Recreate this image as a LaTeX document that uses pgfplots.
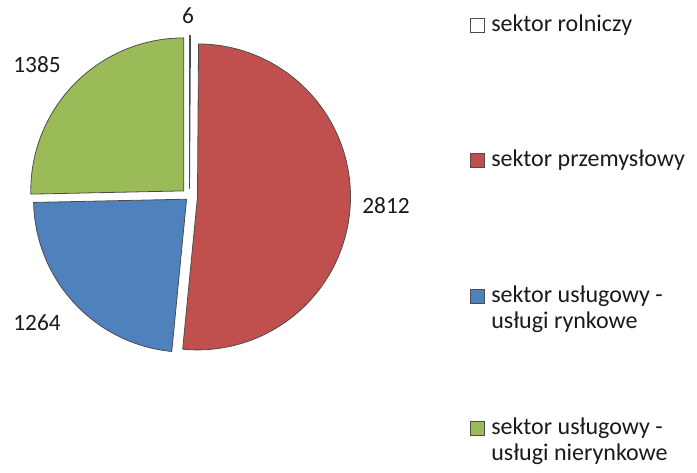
\documentclass[border=0pt]{standalone}
\usepackage{fontspec}
\setmainfont{Carlito}
\usepackage{pgfplots}
\pgfplotsset{compat=1.18}
\usepackage{pgfplotstable}
\definecolor{cred}{HTML}{C0504D}
\definecolor{cblue}{HTML}{4F81BD}
\definecolor{cgreen}{HTML}{9BBB59}
\definecolor{ctext}{HTML}{1A1A1A}
\pgfplotstableread{
sector value
rolniczy 6
przemyslowy 2812
rynkowe 1264
nierynkowe 1385
}\piedata
\pgfplotstablegetelem{0}{value}\of\piedata\edef\va{\pgfplotsretval}
\pgfplotstablegetelem{1}{value}\of\piedata\edef\vb{\pgfplotsretval}
\pgfplotstablegetelem{2}{value}\of\piedata\edef\vc{\pgfplotsretval}
\pgfplotstablegetelem{3}{value}\of\piedata\edef\vd{\pgfplotsretval}
\pgfmathsetmacro\tot{\va+\vb+\vc+\vd}
\pgfmathsetmacro\aA{90}
\pgfmathsetmacro\aB{90-(\va/\tot)*360}
\pgfmathsetmacro\aC{\aB-(\vb/\tot)*360}
\pgfmathsetmacro\aD{\aC-(\vc/\tot)*360}
\pgfmathsetmacro\aE{\aD-(\vd/\tot)*360}
% 1 px = 0.75pt ; radius 153 px
\newcommand\slice[4]{% start, end, colour, explosion (pt)
  \pgfmathsetmacro\midA{(#1+#2)/2}%
  \edef\tmp{\noexpand\filldraw[fill=#3,draw=black!70,line width=0.6pt,line join=round]
    (axis cs:189.5,276.5) ++(\midA:#4) -- +(#1:114.75pt)
    arc[start angle=#1,end angle=#2,radius=114.75pt] -- cycle;}%
  \tmp}
\begin{document}
\begin{tikzpicture}
\begin{axis}[
  scale only axis, width=522.75pt, height=354.75pt,
  xmin=0, xmax=697, ymin=0, ymax=473,
  hide axis, clip=false,
]
\path (axis cs:0,0) rectangle (axis cs:697,473);
\slice{\aA}{\aB}{white}{6pt}
\slice{\aB}{\aC}{cred}{6pt}
\slice{\aC}{\aD}{cblue}{3pt}
\slice{\aD}{\aE}{cgreen}{6pt}
% data labels
\begin{scope}[every node/.style={font=\fontsize{17.5pt}{21pt}\selectfont, text=ctext, inner sep=0pt}]
\node at (axis cs:188,457) {\va};
\node at (axis cs:386,267) {\vb};
\node at (axis cs:37,150) {\vc};
\node at (axis cs:37,408.5) {\vd};
\end{scope}
% legend
\begin{scope}[every node/.style={font=\fontsize{18pt}{21pt}\selectfont, text=ctext, inner sep=0pt, anchor=west}]
\filldraw[fill=white, draw=black!70, line width=0.6pt] (axis cs:470,441) rectangle (axis cs:484.5,455);
\node at (axis cs:491,448) {sektor rolniczy};
\filldraw[fill=cred, draw=black!70, line width=0.6pt] (axis cs:470,305.5) rectangle (axis cs:484.5,320);
\node at (axis cs:491,312.5) {sektor przemysłowy};
\filldraw[fill=cblue, draw=black!70, line width=0.6pt] (axis cs:470,170) rectangle (axis cs:484.5,184);
\node at (axis cs:491,177) {sektor usługowy -};
\node at (axis cs:491,151) {usługi rynkowe};
\filldraw[fill=cgreen, draw=black!70, line width=0.6pt] (axis cs:470,38) rectangle (axis cs:484.5,52);
\node at (axis cs:491,45) {sektor usługowy -};
\node at (axis cs:491,19) {usługi nierynkowe};
\end{scope}
\end{axis}
\end{tikzpicture}
\end{document}
